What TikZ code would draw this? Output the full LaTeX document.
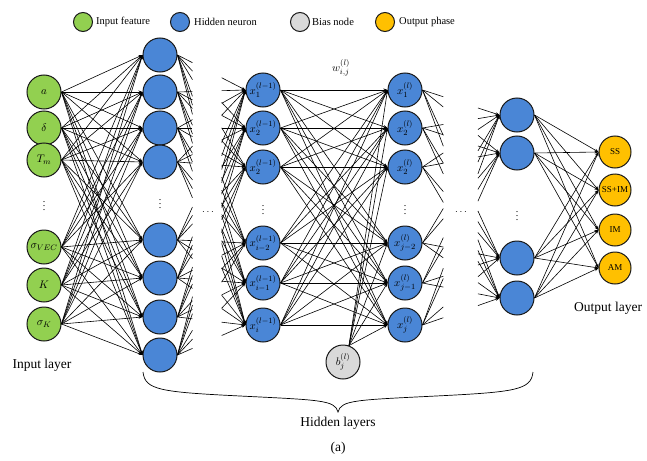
\documentclass[tikz,border=0pt]{standalone}
\usepackage{fontspec}
\setmainfont{Liberation Serif}
\usetikzlibrary{arrows.meta,calc}
\definecolor{ingreen}{RGB}{146,208,80}
\definecolor{hidblue}{RGB}{74,134,214}
\definecolor{biasgray}{RGB}{217,217,217}
\definecolor{outyellow}{RGB}{255,192,0}
\tikzset{
 neuron/.style={circle, draw=black!90, line width=1pt, minimum size=34pt, inner sep=0pt, font=\fontsize{11}{11}\selectfont},
 inp/.style={neuron, fill=ingreen},
 hid/.style={neuron, fill=hidblue},
 biasn/.style={neuron, fill=biasgray},
 outp/.style={neuron, fill=outyellow, minimum size=32pt, font=\fontsize{9}{9}\selectfont},
 conn/.style={line width=0.6pt, -{Stealth[length=4pt,width=3pt]}},
 stub/.style={line width=0.6pt},
 legc/.style={circle, draw=black!90, line width=1pt, minimum size=19pt, inner sep=0pt},
 legt/.style={anchor=west, font=\fontsize{10.5}{12}\selectfont, inner sep=0pt},
 lab/.style={font=\fontsize{13.5}{15}\selectfont, inner sep=0pt},
 vd/.style={inner sep=0pt, font=\fontsize{10}{10}\selectfont},
}
\begin{document}
\begin{tikzpicture}[x=1pt,y=-1pt]
\useasboundingbox (0,0) rectangle (647,460);
% legend
\node[legc, fill=ingreen] (lg1) at (83,22) {};
\node[legt] (lt1) at (96,22) {Input feature};
\node[legc, fill=hidblue] (lg2) at (180,22) {};
\node[legt] (lt2) at (194,22) {Hidden neuron};
\node[legc, fill=biasgray] (lg3) at (300,22) {};
\node[legt] (lt3) at (312,22) {Bias node};
\node[legc, fill=outyellow] (lg4) at (385,22) {};
\node[legt] (lt4) at (399,22) {Output phase};
% input layer
\foreach \n/\y/\t in {1/92/a, 2/128/\delta, 3/160/T_m, 4/247/\sigma_{VEC}, 5/285/K, 6/324/\sigma_K}
  \node[inp] (i\n) at (44,\y) {$\t$};
\node[vd] (id) at (44,203) {$\vdots$};
% hidden layer 1
\foreach \n/\y in {1/55, 2/92, 3/128, 4/162, 5/240, 6/278, 7/317, 8/355}
  \node[hid] (h\n) at (160,\y) {};
\node[vd] (hd) at (160,201) {$\vdots$};
% hidden layer l-1
\foreach \n/\y/\t in {1/90/1, 2/128/2, 3/167/2, 4/243/i-2, 5/283/i-1, 6/325/i}
  \node[hid] (p\n) at (263,\y) {$x_{\t}^{(l-1)}$};
\node[vd] (pd) at (263,207) {$\vdots$};
% hidden layer l
\foreach \n/\y/\t in {1/90/1, 2/128/2, 3/167/2, 4/243/j-2, 5/283/j-1, 6/325/j}
  \node[hid] (q\n) at (405,\y) {$x_{\t}^{(l)}$};
\node[vd] (qd) at (405,207) {$\vdots$};
% last hidden layer
\foreach \n/\y in {1/115, 2/153, 3/258, 4/298}
  \node[hid] (r\n) at (517,\y) {};
\node[vd] (rd) at (517,213) {$\vdots$};
% output layer
\foreach \n/\y/\t in {1/152/SS, 2/190/SS+IM, 3/230/IM, 4/268/AM}
  \node[outp] (o\n) at (615,\y) {\t};
% bias
\node[biasn] (b) at (343,362) {$b_j^{(l)}$};
% horizontal dots
\node[vd] (dd1) at (208,212) {$\cdots$};
\node[vd] (dd2) at (461,212) {$\cdots$};
% weight label
\node[inner sep=0pt, font=\fontsize{11}{11}\selectfont] (w) at (341,68) {$w_{i,j}^{(l)}$};
% connections input -> h
\foreach \a in {1,...,6} \foreach \b in {1,...,8}
  \draw[conn] (i\a.east) -- (h\b.west);
% stubs h -> p
\foreach \a in {1,...,8} \foreach \b in {1,...,6} {
  \draw[stub] (h\a.east) -- ($(h\a.east)!0.22!(p\b.west)$);
  \draw[conn] ($(h\a.east)!0.65!(p\b.west)$) -- (p\b.west);
}
% p -> q
\foreach \a in {1,...,6} \foreach \b in {1,...,6}
  \draw[conn] (p\a.east) -- (q\b.west);
% bias -> q
\foreach \b in {1,...,6}
  \draw[conn] (b.70) -- (q\b.west);
% stubs q -> r
\foreach \a in {1,...,6} \foreach \b in {1,...,4} {
  \draw[stub] (q\a.east) -- ($(q\a.east)!0.27!(r\b.west)$);
  \draw[conn] ($(q\a.east)!0.72!(r\b.west)$) -- (r\b.west);
}
% r -> o
\foreach \a in {1,...,4} \foreach \b in {1,...,4}
  \draw[conn] (r\a.east) -- (o\b.west);
% labels
\node[lab] (il) at (42,365) {Input layer};
\node[lab, anchor=west] (ol) at (574,308) {Output layer};
\draw[line width=0.7pt] (143,372) .. controls (145,390) and (160,392) .. (240,396)
  .. controls (320,400) and (335,400) .. (338,412)
  .. controls (341,400) and (356,400) .. (436,396)
  .. controls (516,392) and (531,390) .. (533,372);
\node[lab] (hl) at (338,423) {Hidden layers};
\node[lab] (cap) at (338,448) {(a)};
\end{tikzpicture}
\end{document}
